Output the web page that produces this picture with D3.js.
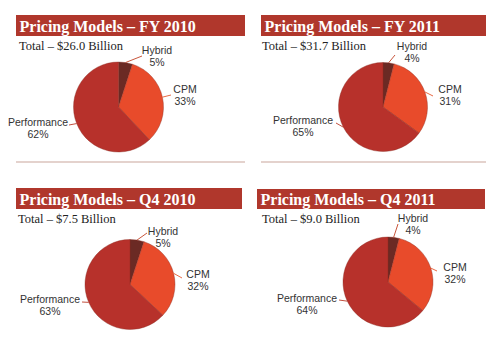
<!DOCTYPE html>
<html><head><meta charset="utf-8">
<script src="https://cdn.jsdelivr.net/npm/d3@7"></script>
<style>html,body{margin:0;padding:0;background:#fff;}svg{display:block;}</style>
</head><body>
<svg id="chart" width="500" height="339"></svg>
<script>
// ---- data ----
const titles = ["Pricing Models – FY 2010", "Pricing Models – FY 2011", "Pricing Models – Q4 2010", "Pricing Models – Q4 2011"];
const totals = ["Total – $26.0 Billion", "Total – $31.7 Billion", "Total – $7.5 Billion", "Total – $9.0 Billion"];
const categories = ["Hybrid", "CPM", "Performance"];
const hybrid = [5, 4, 5, 4];
const cpm = [33, 31, 32, 32];
const performance = [62, 65, 63, 64];

// ---- layout ----
const panels = [
  {bx0:16, bx1:245, by:15, bh:21, tx:19, ty:50, cx:118.5, cy:107, r:45,
   lab:{Hybrid:[157,54], CPM:[185,93], Performance:[38,126]}, sep:162,
   end:{Hybrid:[142,56], CPM:[171,95], Performance:[69,125]}},
  {bx0:261, bx1:486, by:15, bh:21, tx:262, ty:50, cx:383, cy:107, r:44.5,
   lab:{Hybrid:[412,50], CPM:[450,93], Performance:[303,124]}, sep:162,
   end:{Hybrid:[395,55], CPM:[433,96], Performance:[336,123]}},
  {bx0:16, bx1:242, by:188, bh:21, tx:18, ty:223, cx:130, cy:284.5, r:45,
   lab:{Hybrid:[163,235], CPM:[198,278], Performance:[50,303]}, sep:null,
   end:{Hybrid:[147,233], CPM:[182,278], Performance:[82,302]}},
  {bx0:257, bx1:485, by:189, bh:20, tx:262, ty:223, cx:388, cy:282, r:45,
   lab:{Hybrid:[413,222], CPM:[455,271], Performance:[307,302]}, sep:null,
   end:{Hybrid:[398,224], CPM:[437,271], Performance:[339,300]}}
];
const colors = {Hybrid:"#6b2a24", CPM:"#e84b2b", Performance:"#b7312b"};
const leadColors = {Hybrid:"#c8563c", CPM:"#e86a45", Performance:"#c2503f"};

const svg = d3.select("#chart");
const color = d3.scaleOrdinal().domain(categories).range(categories.map(c => colors[c]));
const pie = d3.pie().sort(null).value(d => d.value);

panels.forEach((p, i) => {
  const g = svg.append("g");
  g.append("rect").attr("x", p.bx0).attr("y", p.by).attr("width", p.bx1 - p.bx0).attr("height", p.bh)
    .attr("fill", "#b0372c");
  g.append("text").attr("x", p.bx0 + 3.5).attr("y", p.by + p.bh - 4.5)
    .attr("font-family", "'Liberation Serif', serif").attr("font-weight", "bold").attr("font-size", 16)
    .attr("fill", "#fff").text(titles[i]);
  g.append("text").attr("x", p.tx).attr("y", p.ty)
    .attr("font-family", "'Liberation Serif', serif").attr("font-size", 12.5)
    .attr("fill", "#222").text(totals[i]);
  if (p.sep !== null) {
    g.append("line").attr("x1", p.bx0).attr("x2", p.bx1).attr("y1", p.sep).attr("y2", p.sep)
      .attr("stroke", "#c9a59c").attr("stroke-width", 1.2);
  }
  const vals = [hybrid[i], cpm[i], performance[i]];
  const data = categories.map((c, k) => ({cat: c, value: vals[k]}));
  const arcs = pie(data);
  const arc = d3.arc().innerRadius(0).outerRadius(p.r);
  const pg = g.append("g").attr("transform", `translate(${p.cx},${p.cy})`);
  pg.selectAll("path").data(arcs).join("path")
    .attr("d", arc).attr("fill", d => color(d.data.cat))
    .attr("stroke", "#8a2a22").attr("stroke-width", 0.4);
  // leader lines
  arcs.forEach(a => {
    const mid = (a.startAngle + a.endAngle) / 2;
    const sx = p.cx + Math.sin(mid) * p.r, sy = p.cy - Math.cos(mid) * p.r;
    const e = p.end[a.data.cat];
    g.append("line").attr("x1", sx).attr("y1", sy).attr("x2", e[0]).attr("y2", e[1])
      .attr("stroke", leadColors[a.data.cat]).attr("stroke-width", 1);
    const l = p.lab[a.data.cat];
    const t = g.append("text").attr("x", l[0]).attr("y", l[1]).attr("text-anchor", "middle")
      .attr("font-family", "'Liberation Sans', Arial, sans-serif").attr("font-size", 10.5).attr("fill", "#333");
    t.append("tspan").attr("x", l[0]).attr("dy", 0).text(a.data.cat);
    t.append("tspan").attr("x", l[0]).attr("dy", 12).text(a.data.value + "%");
  });
});
</script>
</body></html>
